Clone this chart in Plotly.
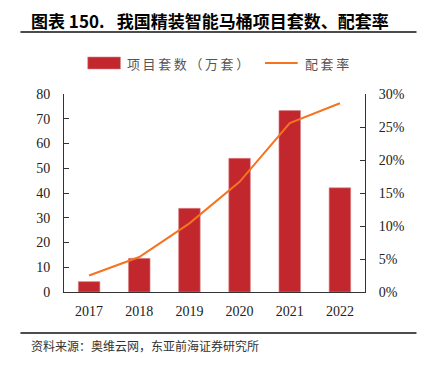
import plotly.graph_objects as go

years = ["2017", "2018", "2019", "2020", "2021", "2022"]
sets_wan = [4.2, 13.6, 33.8, 54.0, 73.3, 42.1]
rate_pct = [2.5, 5.3, 10.4, 16.7, 25.6, 28.6]

title_text = "图表 150.\u2002\u00a0我国精装智能马桶项目套数、配套率"
source_text = "资料来源：奥维云网，东亚前海证券研究所"
bar_name = "项目套数（万套）"
line_name = "配套率"

BAR_COLOR = "#C1272D"
LINE_COLOR = "#F5731F"
CJK = "Noto Sans CJK SC"
SERIF = "Liberation Serif"

# the page body has an 8px margin; work in window pixels and offset
OFF = 8
W, H = 425 - 2 * OFF, 366 - 2 * OFF
PLOT_L, PLOT_R, PLOT_T, PLOT_B = 64, 368, 94, 292  # window pixels
L = PLOT_L - OFF
R = W - (PLOT_R - OFF)
T = PLOT_T - OFF
B = H - (PLOT_B - OFF)


def fx(x):
    return (x - PLOT_L) / (PLOT_R - PLOT_L)


def fy(y):
    return (PLOT_B - y) / (PLOT_B - PLOT_T)


def spaced(s, sep="\u2009"):
    return sep.join(list(s))


fig = go.Figure()
fig.add_trace(go.Bar(
    x=years, y=sets_wan, name=bar_name,
    marker=dict(color=BAR_COLOR, line=dict(color="#D9868A", width=0.6)),
    width=0.43, yaxis="y", showlegend=False,
))
fig.add_trace(go.Scatter(
    x=years, y=[v / 100 for v in rate_pct], name=line_name,
    mode="lines", line=dict(color=LINE_COLOR, width=2),
    yaxis="y2", showlegend=False,
))

shapes = [
    dict(type="line", xref="paper", yref="paper", x0=fx(20), x1=fx(420),
         y0=fy(32), y1=fy(32), line=dict(color="#111", width=1.5)),
    dict(type="line", xref="paper", yref="paper", x0=fx(20), x1=fx(420),
         y0=fy(333), y1=fy(333), line=dict(color="#111", width=1.5)),
    dict(type="rect", xref="paper", yref="paper", x0=fx(88), x1=fx(121),
         y0=fy(69), y1=fy(57), fillcolor=BAR_COLOR,
         line=dict(color="#D9868A", width=0.6)),
    dict(type="line", xref="paper", yref="paper", x0=fx(267), x1=fx(300),
         y0=fy(63), y1=fy(63), line=dict(color=LINE_COLOR, width=2)),
]

annotations = [
    dict(text="<b>" + title_text + "</b>", xref="paper", yref="paper",
         x=fx(29), y=fy(20), xanchor="left", yanchor="middle",
         showarrow=False, font=dict(family=CJK, size=17, color="#000")),
    dict(text=spaced(bar_name), xref="paper", yref="paper",
         x=fx(126), y=fy(63), xanchor="left", yanchor="middle",
         showarrow=False, font=dict(family=CJK, size=13, color="#555")),
    dict(text=spaced(line_name), xref="paper", yref="paper",
         x=fx(305), y=fy(63), xanchor="left", yanchor="middle",
         showarrow=False, font=dict(family=CJK, size=13, color="#555")),
    dict(text=source_text, xref="paper", yref="paper",
         x=fx(29), y=fy(345), xanchor="left", yanchor="middle",
         showarrow=False, font=dict(family=CJK, size=12, color="#333")),
]

fig.update_layout(
    width=W, height=H,
    margin=dict(l=L, r=R, t=T, b=B, pad=0),
    paper_bgcolor="white", plot_bgcolor="white",
    shapes=shapes, annotations=annotations,
    xaxis=dict(
        type="category", showline=True, linecolor="#333", linewidth=1,
        ticks="", showgrid=False, zeroline=False,
        tickfont=dict(family=SERIF, size=14, color="#222"),
        ticklabelstandoff=6,
    ),
    yaxis=dict(
        range=[0, 80], dtick=10, showline=True, linecolor="#333", linewidth=1,
        ticks="inside", ticklen=5, tickcolor="#333", showgrid=False,
        zeroline=False, tickfont=dict(family=SERIF, size=14, color="#222"),
        ticklabelstandoff=10,
    ),
    yaxis2=dict(
        range=[0, 0.30], dtick=0.05, tickformat=".0%", overlaying="y",
        side="right", showline=True, linecolor="#333", linewidth=1,
        ticks="inside", ticklen=5, tickcolor="#333", showgrid=False,
        zeroline=False, tickfont=dict(family=SERIF, size=14, color="#222"),
        ticklabelstandoff=10,
    ),
    bargap=0.57,
)

fig.write_html("out.html")
